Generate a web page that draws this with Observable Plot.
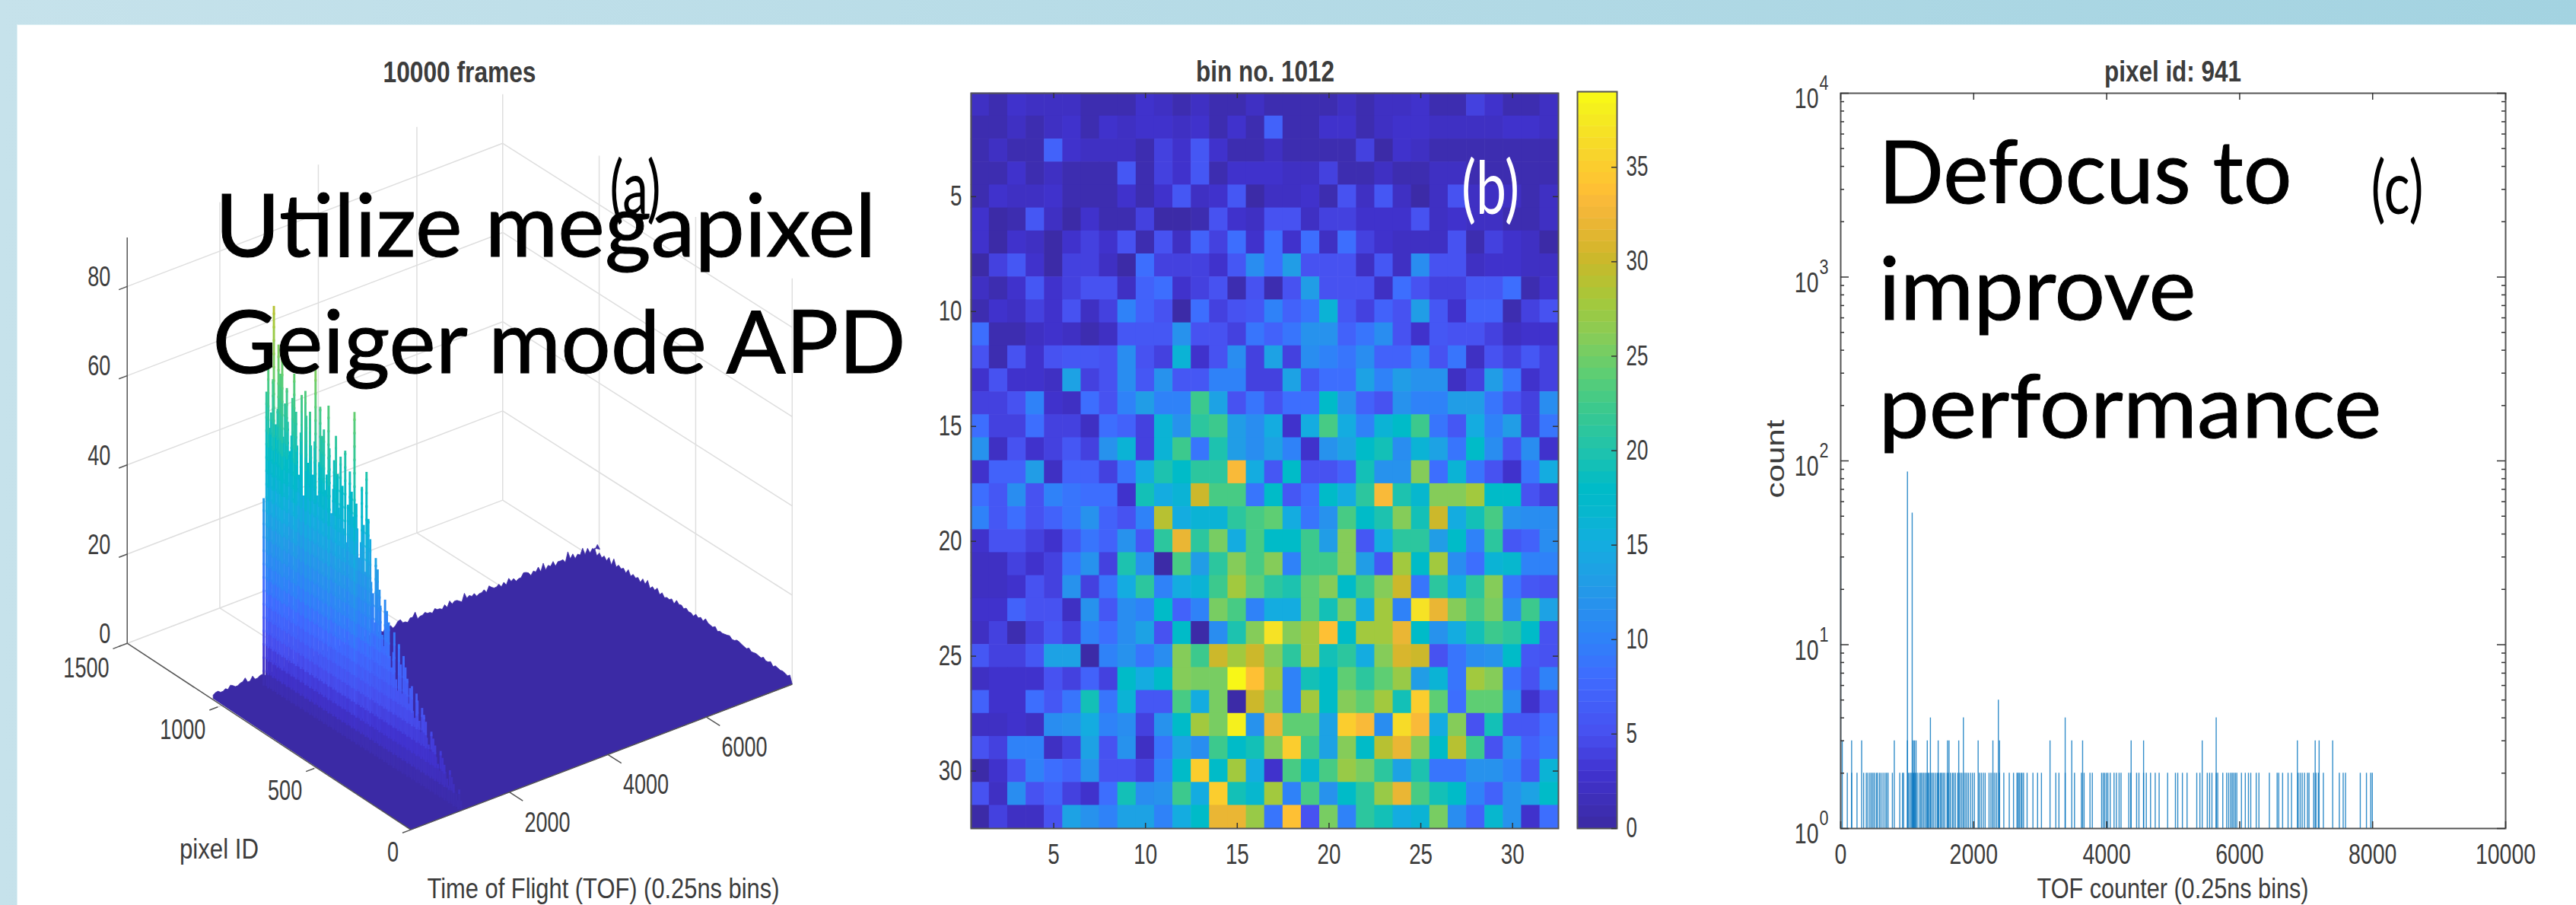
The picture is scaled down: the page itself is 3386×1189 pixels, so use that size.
<!DOCTYPE html>
<html><head><meta charset="utf-8">
<script src="https://cdn.jsdelivr.net/npm/d3@7"></script>
<script src="https://cdn.jsdelivr.net/npm/@observablehq/plot@0.6"></script>
<style>
html,body{margin:0;padding:0;width:3386px;height:1189px;overflow:hidden;background:linear-gradient(90deg,#c6e2eb,#a3d3e1);font-family:"Liberation Sans",sans-serif}
#white{position:absolute;left:23px;top:33px;right:0;bottom:0;background:#fff;box-shadow:0 0 0 1px #dff0f5}
.p{position:absolute}
svg{display:block}
</style></head><body>
<div id="white"></div>
<script>
// ---------- shared colour ramp ----------
const rampValues = [0,3,5,8,10,13,15,17,18,20,22,24,26,28,30,31,33,34,36,38,39];
const rampColors = ["#3b2aa2","#4133d0","#4750f0","#3f6bff","#2f82f8","#229ce6","#14ade0","#05b8cc","#00bbc8","#20c3ac","#38c890","#5cce74","#87cc58","#a6c83a","#c9b92a","#dcb52e","#f8b83a","#ffc233","#f7d82a","#f4ef1e","#fafb14"];
const bandCount = 64, cbarMax = 39;
const band = v => (Math.min(bandCount-1, Math.floor(v/cbarMax*bandCount))+.5)/bandCount*cbarMax;

// ---------- panel (b): counts per pixel at bin no. 1012 ----------
const heatRows = [
[2,1,3,2,2,2,1,1,1,3,2,1,2,1,1,2,1,1,1,1,2,1,2,2,3,1,1,4,3,1,1,2],
[1,1,2,1,2,3,1,3,2,3,3,2,3,1,3,1,7,1,1,3,3,1,2,3,3,2,2,2,2,3,3,2],
[1,2,1,1,7,3,2,2,2,1,4,3,6,3,1,1,2,1,1,1,1,4,0,3,2,1,1,1,1,1,1,1],
[1,1,3,1,2,1,1,1,6,1,4,3,6,1,3,3,3,2,2,4,1,1,2,1,1,2,2,1,1,1,1,1],
[1,3,2,2,3,1,1,1,3,1,3,6,2,3,6,0,2,2,3,1,5,2,6,2,0,2,5,2,2,2,1,2],
[3,0,1,6,2,0,3,1,1,4,0,0,1,5,3,2,5,5,2,4,4,3,3,3,5,2,3,2,2,1,1,2],
[3,0,3,2,0,3,4,3,5,1,5,2,7,4,8,3,8,3,8,2,8,4,3,2,2,2,5,1,4,3,2,0],
[0,4,6,3,0,4,4,2,0,8,4,4,4,3,6,11,8,13,5,5,5,2,6,2,11,5,5,2,3,3,2,2],
[2,1,3,6,3,4,5,5,2,7,8,3,4,5,1,5,1,5,13,5,5,5,2,8,5,4,4,6,6,8,1,3],
[1,3,2,4,3,5,2,4,10,7,5,0,8,4,5,6,10,7,9,16,6,4,7,5,13,6,3,7,7,1,4,5],
[8,1,1,2,3,2,1,2,6,6,6,12,5,5,4,9,7,9,12,12,7,9,11,5,3,6,5,5,4,2,3,3],
[5,1,5,3,5,6,6,5,11,5,4,16,3,5,11,4,14,4,11,10,9,11,7,7,10,5,9,2,5,4,6,4],
[3,5,3,3,2,14,4,5,11,6,12,6,6,10,10,4,4,14,6,8,8,14,10,13,12,12,2,4,13,9,3,4],
[4,4,5,10,3,2,8,5,10,13,10,10,22,14,5,9,5,8,8,18,12,7,5,12,10,10,13,13,9,5,4,11],
[8,4,4,8,4,4,2,8,7,4,16,12,21,22,13,11,15,3,15,23,15,10,16,18,22,9,6,15,10,13,4,9],
[12,2,5,3,4,6,4,12,16,4,16,22,9,20,13,11,14,10,3,12,14,18,19,11,16,14,9,18,11,5,11,3],
[3,7,7,13,2,7,7,4,9,15,20,18,21,21,33,15,6,18,5,5,7,19,12,12,26,8,16,9,5,3,9,15],
[8,6,11,5,10,9,8,8,3,19,15,16,30,23,23,9,18,6,8,18,15,21,33,20,17,26,26,28,18,18,5,4],
[10,6,8,5,7,9,12,7,5,10,29,15,16,16,21,23,24,15,9,12,23,18,20,26,19,30,15,19,23,12,11,11],
[3,5,5,4,3,6,9,7,12,6,21,32,21,25,15,23,18,18,22,13,26,6,15,21,21,13,18,10,21,6,7,11],
[2,2,4,3,4,9,12,4,20,12,0,23,13,21,26,23,26,10,22,22,26,13,6,28,18,28,11,8,16,17,10,10],
[2,2,3,5,4,12,4,9,15,21,10,15,16,22,28,24,21,20,24,26,18,22,26,30,9,21,15,21,26,9,6,5],
[3,3,7,5,5,2,12,6,11,10,18,7,10,25,23,10,15,15,24,19,25,15,28,10,37,32,26,23,25,11,22,14],
[2,4,1,4,6,4,10,8,11,14,5,18,0,11,20,26,37,26,28,34,18,28,28,32,18,12,15,19,22,21,18,5],
[6,4,4,6,14,14,0,10,12,9,11,26,22,30,28,30,26,21,28,19,21,15,26,31,30,5,9,11,12,18,6,5],
[2,3,3,3,5,4,7,4,18,15,18,26,25,25,39,34,28,10,19,18,24,21,24,27,13,16,9,28,26,9,5,10],
[7,3,3,8,6,9,19,9,16,6,6,23,15,25,0,30,26,10,28,18,26,24,28,19,35,24,8,24,24,11,3,5],
[2,2,3,2,11,12,15,10,11,4,12,18,28,25,38,12,32,24,24,14,35,33,11,36,33,15,26,5,19,6,6,8],
[5,4,10,10,2,4,14,5,12,2,9,14,11,22,18,19,26,35,22,14,26,18,29,32,26,18,29,22,5,12,7,9],
[0,3,5,10,8,7,12,5,5,4,10,18,35,18,28,15,3,23,17,23,27,25,21,14,20,9,9,12,12,10,6,16],
[5,2,11,5,7,4,3,8,19,11,12,22,15,35,19,17,28,10,23,12,18,21,27,32,23,19,18,10,7,12,14,18],
[0,4,2,2,5,14,12,10,14,14,10,15,18,32,32,27,9,34,5,25,10,21,19,15,16,25,11,7,17,12,3,8]
];
const heatTicks = [5,10,15,20,25,30];
const cbarTicks = [0,5,10,15,20,25,30,35];

// ---------- panel (c): histogram of pixel id 941 ----------
const peakBins = [0,1004,1075], peakCounts = [30,87,52];
const bins5 = [2371];
const bins4 = [1349,1845,3376,5647];
const bins3 = [23,164,315,806,1004,1092,1110,1133,1302,1466,1606,1629,1775,2067,2289,2389,3148,3475,3638,4368,4555,5437,6868,7136,7195,7399];
const bins2 = [99,164,245,345,385,409,438,461,485,508,537,555,584,607,637,666,689,712,777,888,929,946,1018,1040,1060,1085,1100,1120,1150,1180,1203,1220,1244,1267,1290,1314,1331,1355,1378,1401,1430,1454,1477,1501,1518,1541,1565,1600,1620,1650,1680,1700,1725,1760,1790,1815,1840,1870,1895,1920,1950,1980,2010,2085,2114,2143,2172,2231,2260,2289,2318,2345,2389,2453,2535,2599,2651,2669,2686,2710,2727,2750,2803,2891,2961,3019,3235,3282,3376,3516,3620,3660,3749,3784,3924,3948,3970,3995,4018,4053,4111,4146,4187,4216,4333,4362,4450,4485,4555,4596,4660,4730,4789,4917,5034,5069,5139,5209,5355,5402,5513,5548,5583,5647,5670,5746,5805,5835,5865,5888,5911,5935,5957,6027,6085,6132,6167,6249,6290,6447,6564,6588,6646,6728,6780,6880,6910,6940,6975,7020,7043,7113,7148,7183,7259,7499,7557,7592,7814,7907,7971,7995];
const tofTicksC = [0,2000,4000,6000,8000,10000];
const decades = [1,10,100,1000,10000];

// ---------- panel (a): 3-D surface ----------
const zTicks = [0,20,40,60,80];
const pidTicks = [0,500,1000,1500];
const tofTicksA = [2000,4000,6000];
const ridgeTof = 1010;
// peak count along the ridge, from pixel 1020 down to pixel 4, every 8 pixels
const ridgeCounts = [42,66,58,74,62,86,70,60,78,
64,72,58,76,66,62,70,56,68,60,
74,58,66,52,70,62,48,66,72,56,
60,68,54,78,62,50,70,58,64,52,
66,56,62,72,48,60,54,66,50,58,
62,46,56,64,52,44,60,50,56,74,
48,54,42,58,46,50,62,40,52,38,
48,36,44,30,42,34,38,28,36,26,
34,24,32,22,30,26,20,28,18,24,
26,18,24,16,22,20,15,21,14,18,
20,14,17,12,16,11,15,10,13,9,
12,8,11,7,10,6,9,6,8,5,
7,4,6,3,5,3,4,2,2];
// rough edge of the floor, every 100 bins along the far side
const backEdge = [2,3,2,2,3,2,3,2,4,2,3,2,2,3,2,5,3,2,3,2,2,3,4,2,3,2,3,3,2,4,3,2,2,3,2,3,3,2,4,2,3,5,2,3,2,3,2,3,4,3,2,5,3,3,2,3,4,2,3,3,4,3,2,4,3,3,4,5,3,4,3,3,6,4,3,5,4,3,4];
// rough edge along the last bin, every 25 pixels from pixel 1024 down
const rightEdge = [4,3,3,4,5,3,3,4,3,3,4,5,3,4,3,2,3,4,3,3,2,3,3,4,2,3,2,2,3,2,3,2,3,2,2,3,2,1,2,2,1];

const tofMax = 7742, pidMax = 1500, pidEnd = 1024, zTop = 91, tofWall = 120;
// projection of the MATLAB 3-D view (data -> picture)
const proj = (pid,tof,z) => [539.5 + tof*0.06475 - pid*0.2537, 1089.6 - tof*0.02468 - pid*0.1613 - z*5.86];
const seg = (a,b) => { const p=proj(...a), q=proj(...b); return {x1:p[0],y1:p[1],x2:q[0],y2:q[1]}; };

const gridSegs = [
  ...zTicks.flatMap(z => [seg([pidMax,tofWall,z],[pidMax,tofMax,z]), seg([pidMax,tofMax,z],[0,tofMax,z])]),
  ...tofTicksA.flatMap(t => [seg([pidMax,t,0],[pidMax,t,zTop]), seg([pidMax,t,0],[0,t,0])]),
  ...[1000,500].flatMap(p => [seg([p,tofMax,0],[p,tofMax,zTop]), seg([p,0,0],[p,tofMax,0])]),
  seg([pidMax,tofMax,0],[pidMax,tofMax,zTop]), seg([0,tofMax,0],[0,tofMax,zTop])
];
const axisSegs = [
  seg([pidMax,tofWall,0],[pidMax,tofWall,zTop]), seg([pidMax,tofWall,0],[0,0,0]), seg([0,0,0],[0,tofMax,0]),
  ...zTicks.map(z => seg([pidMax,tofWall,z],[pidMax,-50,z])),
  ...pidTicks.map(p => seg([p,0,0],[p,-170,0])),
  ...tofTicksA.map(t => seg([0,t,0],[-70,t,0]))
];
const edgeZ = h => h*.45 + 1.1;
const floorPoly = [
  proj(pidEnd,0,1.2),
  ...backEdge.flatMap((h,i) => [proj(pidEnd,i*100,edgeZ(h)), proj(pidEnd,i*100+50,edgeZ(backEdge[backEdge.length-1-i])*.82)]),
  ...rightEdge.flatMap((h,i) => [proj(pidEnd-i*25,tofMax,edgeZ(h)*.8), proj(pidEnd-i*25-12,tofMax,edgeZ(rightEdge[rightEdge.length-1-i])*.6)]),
  proj(0,tofMax,0), proj(0,0,0)
];
const zStep = 3;
const ridgeSegs = ridgeCounts.flatMap((c,i) => {
  const pid = 1020 - i*8, tof = ridgeTof + (i%3)*25, out = [];
  for (let z=0; z<c; z+=zStep) {
    const v = 39*Math.pow((z+zStep/2)*(.55+c/190)/125,.8);
    out.push({...seg([pid,tof,z],[pid,tof,Math.min(c,z+zStep+.5)]), v});
  }
  return out;
});

const box = (left,top,el) => { el.classList && el.classList.add("p"); el.style.left=left+"px"; el.style.top=top+"px"; document.body.appendChild(el); return el; };
const squeeze = (svg,k) => { svg.querySelectorAll("text").forEach(t => { const w=t.getComputedTextLength(); if(w>0){t.setAttribute("textLength",w*k); t.setAttribute("lengthAdjust","spacingAndGlyphs");} }); };
const inkColor = "#3c3c3c", boxColor = "#555";
const baseStyle = {background:"transparent",fontFamily:"Liberation Sans, sans-serif",color:inkColor,overflow:"visible"};

// ---------- panel (a) ----------
const W_a = 1200, H_a = 1189;
const a = box(0,0,Plot.plot({
  width:W_a,height:H_a,margin:0,style:baseStyle,
  x:{domain:[0,W_a],range:[0,W_a],axis:null},
  y:{domain:[0,H_a],range:[0,H_a],axis:null},
  color:{type:"linear",domain:rampValues,range:rampColors},
  marks:[
    Plot.link(gridSegs,{x1:"x1",y1:"y1",x2:"x2",y2:"y2",stroke:"#dedede",strokeWidth:1.5}),
    Plot.line(floorPoly,{x:d=>d[0],y:d=>d[1],fill:"#3b2aa5",stroke:"#3b2aa5",strokeWidth:.8}),
    Plot.link(ridgeSegs,{x1:"x1",y1:"y1",x2:"x2",y2:"y2",stroke:"v",strokeWidth:2.9,strokeLinecap:"butt"}),
    Plot.link(axisSegs,{x1:"x1",y1:"y1",x2:"x2",y2:"y2",stroke:"#555",strokeWidth:1.5}),
    Plot.text(zTicks,{x:z=>proj(pidMax,tofWall,z)[0],y:z=>proj(pidMax,tofWall,z)[1],text:d=>String(d),textAnchor:"end",dx:-22,dy:-12,fontSize:37,fill:inkColor}),
    Plot.text(pidTicks,{x:p=>proj(p,0,0)[0],y:p=>proj(p,0,0)[1],text:d=>String(d),textAnchor:"end",dx:-16,dy:30,fontSize:37,fill:inkColor}),
    Plot.text(tofTicksA,{x:t=>proj(0,t,0)[0],y:t=>proj(0,t,0)[1],text:d=>String(d),dx:50,dy:40,fontSize:37,fill:inkColor})
  ]
}));
squeeze(a,.73);

// ---------- panel (b) ----------
const cells = heatRows.flatMap((r,i) => r.map((v,j) => ({row:i+1,col:j+1,v:band(v)})));
const bW=1000,bH=1090,bInnerW=772,bInnerH=966;
const inTicksX = (vals,side,len,w) => Plot.tickX(vals,{x:d=>d,stroke:"#333",strokeWidth:1.5,[side==="top"?"insetBottom":"insetTop"]:w-len});
const inTicksY = (vals,side,len,w) => Plot.tickY(vals,{y:d=>d,stroke:"#333",strokeWidth:1.5,[side==="left"?"insetRight":"insetLeft"]:w-len});
const b = box(1200,60,Plot.plot({
  width:bW,height:bH,marginLeft:76,marginRight:152,marginTop:62,marginBottom:62,style:baseStyle,
  x:{domain:[.5,32.5],axis:null},
  y:{domain:[32.5,.5],axis:null},
  color:{type:"linear",domain:rampValues,range:rampColors},
  marks:[
    Plot.rect(cells,{x1:d=>d.col-.5,x2:d=>d.col+.5,y1:d=>d.row-.5,y2:d=>d.row+.5,fill:"v",inset:-.3}),
    Plot.frame({stroke:boxColor,strokeWidth:2}),
    inTicksX(heatTicks,"top",7,bInnerH), inTicksX(heatTicks,"bottom",7,bInnerH),
    inTicksY(heatTicks,"left",7,bInnerW), inTicksY(heatTicks,"right",7,bInnerW),
    Plot.axisX({ticks:heatTicks,tickSize:0,tickPadding:20,tickFormat:d=>String(d),label:null,fontSize:37}),
    Plot.axisY({ticks:heatTicks,tickSize:0,tickPadding:12,tickFormat:d=>String(d),label:null,fontSize:37})
  ]
}));
squeeze(b,.75);

// colour bar
const cbarBands = d3.range(bandCount).map(i => ({lo:i/bandCount*cbarMax,hi:(i+1)/bandCount*cbarMax,v:(i+.5)/bandCount*cbarMax}));
const c1 = box(2073,60,Plot.plot({
  width:130,height:1090,marginLeft:0,marginRight:78,marginTop:60,marginBottom:62,style:baseStyle,
  x:{domain:[0,1],axis:null},
  y:{domain:[0,cbarMax],axis:null},
  color:{type:"linear",domain:rampValues,range:rampColors},
  marks:[
    Plot.rect(cbarBands,{x1:()=>0,x2:()=>1,y1:"lo",y2:"hi",fill:"v",inset:-.2}),
    Plot.frame({stroke:boxColor,strokeWidth:2}),
    Plot.tickY(cbarTicks,{y:d=>d,stroke:"#333",strokeWidth:1.5,insetLeft:45}),
    Plot.axisY({anchor:"right",ticks:cbarTicks,tickSize:0,tickPadding:12,tickFormat:d=>String(d),label:null,fontSize:36})
  ]
}));
squeeze(c1,.72);

// ---------- panel (c) ----------
const stems = [
  ...peakBins.map((t,i)=>({tof:t,count:peakCounts[i]})),
  ...bins5.map(t=>({tof:t,count:5})), ...bins4.map(t=>({tof:t,count:4})),
  ...bins3.map(t=>({tof:t,count:3})), ...bins2.map(t=>({tof:t,count:2}))
];
const minorTicks = decades.slice(0,-1).flatMap(d => d3.range(2,10).map(k => k*d));
const cInnerW=874,cInnerH=966;
const c = box(2300,60,Plot.plot({
  width:1086,height:1129,marginLeft:119,marginRight:93,marginTop:62,marginBottom:101,style:baseStyle,
  x:{domain:[0,10000],axis:null},
  y:{type:"log",domain:[1,10000],axis:null},
  marks:[
    Plot.ruleX(stems,{x:"tof",y1:()=>1,y2:"count",stroke:"#0072BD",strokeWidth:1.4,strokeOpacity:.8}),
    Plot.frame({stroke:boxColor,strokeWidth:2}),
    inTicksX(tofTicksC,"top",9,cInnerH), inTicksX(tofTicksC,"bottom",9,cInnerH),
    inTicksY(decades,"left",11,cInnerW), inTicksY(decades,"right",11,cInnerW),
    inTicksY(minorTicks,"left",5,cInnerW), inTicksY(minorTicks,"right",5,cInnerW),
    Plot.axisX({ticks:tofTicksC,tickSize:0,tickPadding:20,tickFormat:d=>String(d),label:null,fontSize:37}),
    Plot.text(decades,{y:d=>d,frameAnchor:"left",text:()=>"10",textAnchor:"end",dx:-29,dy:8,fontSize:37,fill:inkColor}),
    Plot.text(decades,{y:d=>d,frameAnchor:"left",text:d=>String(Math.log10(d)),textAnchor:"start",dx:-28,dy:-13,fontSize:28,fill:inkColor})
  ]
}));
squeeze(c,.77);

// ---------- titles, axis labels and slide annotations ----------
const labelFont = "Liberation Sans, sans-serif", slideFont = "Lato, sans-serif";
const annotations = [
  {t:"10000 frames",x:604,y:108,w:201,size:38,weight:"bold"},
  {t:"bin no. 1012",x:1663,y:107,w:182,size:38,weight:"bold"},
  {t:"pixel id: 941",x:2856,y:107,w:180,size:38,weight:"bold"},
  {t:"pixel ID",x:288,y:1128,w:104,size:37},
  {t:"Time of Flight (TOF) (0.25ns bins)",x:793,y:1180,w:463,size:37},
  {t:"TOF counter (0.25ns bins)",x:2856,y:1180,w:357,size:37},
  {t:"count",x:2345,y:603,w:103,size:34,rot:-90},
  {t:"Utilize megapixel",x:717,y:336.5,w:869,size:115,font:slideFont,fill:"#000",bold:1},
  {t:"Geiger mode APD",x:735,y:490,w:911,size:115,font:slideFont,fill:"#000",bold:1},
  {t:"Defocus to",x:2741,y:267,w:543,size:115,font:slideFont,fill:"#000",bold:1},
  {t:"improve",x:2678,y:420,w:417,size:115,font:slideFont,fill:"#000",bold:1},
  {t:"performance",x:2800,y:575,w:661,size:115,font:slideFont,fill:"#000",bold:1},
  {t:"(a)",x:835,y:281,w:67,size:96,font:slideFont,fill:"#000"},
  {t:"(b)",x:1959,y:281,w:76,size:96,font:slideFont,fill:"#fff"},
  {t:"(c)",x:3151,y:281,w:69,size:96,font:slideFont,fill:"#000"}
];
const ov = d3.select(document.body).append("svg").attr("class","p").attr("width",3386).attr("height",1189)
  .style("left","0px").style("top","0px").style("pointer-events","none");
ov.selectAll("text").data(annotations).join("text")
  .attr("transform",d=>`translate(${d.x},${d.y})${d.rot?` rotate(${d.rot})`:""}`)
  .attr("text-anchor","middle")
  .attr("textLength",d=>d.w).attr("lengthAdjust","spacingAndGlyphs")
  .style("font-family",d=>d.font||labelFont).style("font-size",d=>d.size+"px")
  .style("font-weight",d=>d.weight||"normal").style("fill",d=>d.fill||inkColor)
  .style("stroke",d=>d.bold?d.fill:"none").style("stroke-width",d=>d.bold||0)
  .text(d=>d.t);
</script>
</body></html>
